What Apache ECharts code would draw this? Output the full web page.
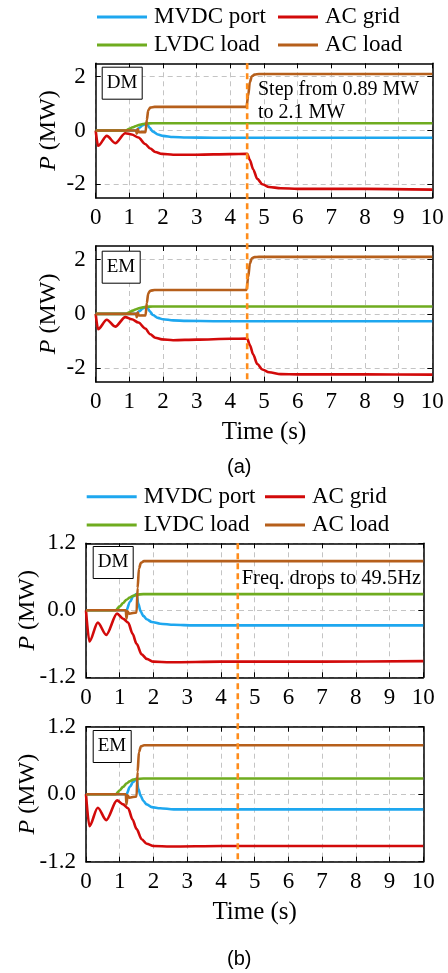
<!DOCTYPE html>
<html>
<head>
<meta charset="utf-8">
<script src="https://cdn.jsdelivr.net/npm/echarts@6/dist/echarts.min.js"></script>
<style>
  html, body { margin: 0; padding: 0; background: #fff; }
  #chart { width: 448px; height: 973px; }
</style>
</head>
<body>
<div id="chart"></div>
<script>
// ---- data (time in s, power in MW) ----
const xTicks = [0, 1, 2, 3, 4, 5, 6, 7, 8, 9, 10]
const yTicksA = [-2, 0, 2]
const yTicksB = [-1.2, 0, 1.2]
const eventTime = 4.5

// (a) AC load step 0.89 -> 2.1 MW at 4.5 s
const aMvdcT = [0, 1.2, 1.3, 1.4, 1.5, 1.55, 1.6, 1.7, 1.85, 2.0, 2.3, 2.7, 3.5, 10]
const aDmMvdc = [0, 0, 0.1, 0.2, 0.25, 0.2, 0.1, -0.04, -0.15, -0.2, -0.24, -0.26, -0.27, -0.27]
const aEmMvdc = [0, 0, 0.1, 0.2, 0.25, 0.2, 0.1, -0.04, -0.15, -0.2, -0.24, -0.26, -0.27, -0.27]

const aLvdcT = [0, 0.9, 1.0, 1.1, 1.2, 1.3, 1.4, 1.5, 1.7, 2, 10]
const aDmLvdc = [0, 0, 0.06, 0.12, 0.17, 0.21, 0.24, 0.26, 0.27, 0.27, 0.27]
const aEmLvdc = [0, 0, 0.06, 0.12, 0.17, 0.21, 0.24, 0.26, 0.27, 0.27, 0.27]

const aLoadT = [0, 1.2, 1.22, 1.25, 1.28, 1.48, 1.52, 1.56, 1.62, 1.75, 4.48, 4.53, 4.58, 4.64, 4.72, 4.85, 10]
const aDmLoad = [0, 0, -0.12, 0.05, -0.06, -0.06, 0.4, 0.75, 0.85, 0.88, 0.88, 1.3, 1.8, 2.02, 2.08, 2.1, 2.1]
const aEmLoad = [0, 0, -0.12, 0.05, -0.06, -0.06, 0.4, 0.75, 0.85, 0.88, 0.88, 1.35, 1.85, 2.05, 2.09, 2.1, 2.1]

const aGridT = [0, 0.07, 0.33, 0.58, 0.88, 1.07, 1.27, 1.47, 1.62, 1.77, 1.97, 2.3, 3, 4, 4.5, 4.58, 4.68, 4.8, 4.95, 5.15, 5.5, 6, 8, 10]
const aDmGrid = [0, -0.57, -0.2, -0.47, -0.1, -0.15, -0.26, -0.5, -0.67, -0.8, -0.87, -0.9, -0.9, -0.88, -0.87, -1.1, -1.45, -1.8, -2.0, -2.1, -2.15, -2.17, -2.17, -2.2]
const aEmGrid = [0, -0.57, -0.22, -0.47, -0.12, -0.2, -0.32, -0.54, -0.75, -0.88, -0.94, -0.97, -0.95, -0.92, -0.91, -1.15, -1.5, -1.85, -2.05, -2.15, -2.22, -2.23, -2.23, -2.24]

// (b) grid frequency drops to 49.5 Hz at 4.5 s
const bMvdcT = [0, 1.2, 1.3, 1.4, 1.5, 1.55, 1.62, 1.7, 1.8, 1.95, 2.2, 2.6, 3.2, 10]
const bDmMvdc = [0, 0, 0.15, 0.25, 0.29, 0.12, -0.02, -0.1, -0.16, -0.21, -0.24, -0.26, -0.27, -0.27]
const bEmMvdc = [0, 0, 0.13, 0.22, 0.28, 0.1, -0.03, -0.12, -0.18, -0.23, -0.25, -0.27, -0.27, -0.27]

const bLvdcT = [0, 0.88, 1.0, 1.1, 1.2, 1.3, 1.4, 1.5, 1.7, 2.2, 10]
const bDmLvdc = [0, 0, 0.07, 0.13, 0.19, 0.23, 0.26, 0.28, 0.29, 0.29, 0.29]
const bEmLvdc = [0, 0, 0.07, 0.13, 0.19, 0.23, 0.26, 0.27, 0.28, 0.28, 0.28]

const bLoadT = [0, 1.18, 1.2, 1.23, 1.28, 1.5, 1.53, 1.57, 1.63, 1.72, 10]
const bDmLoad = [0, 0, -0.15, -0.02, -0.06, -0.04, 0.4, 0.75, 0.85, 0.88, 0.88]
const bEmLoad = [0, 0, -0.18, -0.02, -0.06, -0.04, 0.4, 0.75, 0.85, 0.87, 0.87]

const bGridT = [0, 0.1, 0.35, 0.6, 0.92, 1.1, 1.25, 1.38, 1.5, 1.65, 1.8, 2.0, 2.5, 4, 7, 10]
const bDmGrid = [0, -0.56, -0.22, -0.44, -0.06, -0.15, -0.22, -0.42, -0.6, -0.79, -0.87, -0.92, -0.93, -0.92, -0.92, -0.91]
const bEmGrid = [0, -0.57, -0.24, -0.46, -0.11, -0.18, -0.25, -0.45, -0.62, -0.8, -0.88, -0.92, -0.93, -0.92, -0.92, -0.92]

const names = ['MVDC port', 'AC grid', 'LVDC load', 'AC load']
const colors = ['#1ea7ef', '#d20a0a', '#6fac1f', '#b65f1b']

const serif = '"Liberation Serif", "DejaVu Serif", serif'
const sans = '"Liberation Sans", Arial, sans-serif'

const pairs = (ts, vs) => ts.map((t, i) => [t, vs[i]])

// panels: grid placement + data per panel
const panels = [
  { left: 95.7, right: 15.7, top: 63.3, height: 134.4, yMin: -2.5, yMax: 2.5, yTicks: yTicksA, fmt: v => String(v), nameGap: 35, time: false,
    data: [pairs(aMvdcT, aDmMvdc), pairs(aGridT, aDmGrid), pairs(aLvdcT, aDmLvdc), pairs(aLoadT, aDmLoad)] },
  { left: 95.7, right: 15.7, top: 246, height: 135.7, yMin: -2.5, yMax: 2.5, yTicks: yTicksA, fmt: v => String(v), nameGap: 35, time: true,
    data: [pairs(aMvdcT, aEmMvdc), pairs(aGridT, aEmGrid), pairs(aLvdcT, aEmLvdc), pairs(aLoadT, aEmLoad)] },
  { left: 86, right: 24.7, top: 543.3, height: 134, yMin: -1.2, yMax: 1.2, yTicks: yTicksB, fmt: v => v.toFixed(1), nameGap: 46, time: false,
    data: [pairs(bMvdcT, bDmMvdc), pairs(bGridT, bDmGrid), pairs(bLvdcT, bDmLvdc), pairs(bLoadT, bDmLoad)] },
  { left: 86, right: 24.7, top: 726.7, height: 135, yMin: -1.2, yMax: 1.2, yTicks: yTicksB, fmt: v => v.toFixed(1), nameGap: 46, time: true,
    data: [pairs(bMvdcT, bEmMvdc), pairs(bGridT, bEmGrid), pairs(bLvdcT, bEmLvdc), pairs(bLoadT, bEmLoad)] },
]

const boxLine = { show: true, onZero: false, lineStyle: { color: '#000', width: 1.5 } }
const inTick = { show: true, inside: true, length: 5, lineStyle: { color: '#000', width: 1 } }
const gridDash = { show: true, lineStyle: { color: '#c4c4c4', width: 1, type: [5, 4] } }

const grid = [], xAxis = [], yAxis = [], series = []
panels.forEach((p, gi) => {
  grid.push({ left: p.left, right: p.right, top: p.top, height: p.height, outerBoundsMode: 'none' })
  xAxis.push({
    gridIndex: gi, type: 'value', min: 0, max: 10, interval: 1, position: 'bottom',
    axisLine: boxLine, axisTick: inTick, splitLine: gridDash,
    axisLabel: { margin: 9, color: '#000', fontFamily: serif, fontSize: 23, showMinLabel: true, showMaxLabel: true,
      customValues: xTicks },
    name: p.time ? 'Time (s)' : '', nameLocation: 'middle', nameGap: 38, nameMoveOverlap: false,
    nameTextStyle: { color: '#000', fontFamily: serif, fontSize: 25 }
  })
  xAxis.push({
    gridIndex: gi, type: 'value', min: 0, max: 10, interval: 1, position: 'top',
    axisLine: boxLine, axisTick: inTick, axisLabel: { show: false }, splitLine: { show: false }
  })
  yAxis.push({
    gridIndex: gi, type: 'value', min: p.yMin, max: p.yMax, position: 'left',
    axisLine: boxLine, axisTick: Object.assign({}, inTick, { customValues: p.yTicks }), splitLine: gridDash,
    axisLabel: { margin: 10, color: '#000', fontFamily: serif, fontSize: 23, customValues: p.yTicks, formatter: p.fmt },
    name: '{i|P} (MW)', nameLocation: 'middle', nameGap: p.nameGap, nameMoveOverlap: false,
    nameTextStyle: { color: '#000', fontFamily: serif, fontSize: 24,
      rich: { i: { fontStyle: 'italic', fontFamily: serif, fontSize: 24, color: '#000' } } }
  })
  yAxis.push({
    gridIndex: gi, type: 'value', min: p.yMin, max: p.yMax, position: 'right',
    axisLine: boxLine, axisTick: Object.assign({}, inTick, { customValues: p.yTicks }),
    axisLabel: { show: false }, splitLine: { show: false }
  })
  p.data.forEach((d, k) => {
    series.push({
      name: names[k], type: 'line', xAxisIndex: gi * 2, yAxisIndex: gi * 2,
      data: d, showSymbol: false, symbol: 'none', smooth: 0.3, smoothMonotone: 'x',
      lineStyle: { width: 2.6, color: colors[k] }, itemStyle: { color: colors[k] },
      z: k === 3 ? 4 : 3, animation: false
    })
  })
})

// legends: two rows above each figure, one legend per entry so columns line up
const legendSpots = [
  [97, 17, 50], [278, 17, 40], [97, 45, 50], [278, 45, 40],
  [86.7, 496.7, 50], [265, 496.7, 40], [86.7, 525, 50], [265, 525, 40]
]
const legend = legendSpots.map((s, i) => ({
  data: [names[i % 4]], left: s[0], top: s[1] - 12, itemWidth: s[2], itemHeight: 3, icon: 'rect',
  padding: 0, selectedMode: false,
  textStyle: { color: '#000', fontFamily: serif, fontSize: 23, lineHeight: 24, padding: [0, 0, 0, 2] }
}))

const modeBox = (text, left, top) => ({
  text, left, top, padding: [6, 5, 6, 5], borderWidth: 1, borderColor: '#000', backgroundColor: '#fff',
  textStyle: { color: '#000', fontFamily: serif, fontSize: 19, fontWeight: 'normal', lineHeight: 21 }
})

const chart = echarts.init(document.getElementById('chart'))
chart.setOption({
  backgroundColor: '#fff',
  animation: false,
  title: [modeBox('DM', 101.7, 66.7), modeBox('EM', 101.7, 250.7), modeBox('DM', 92.7, 546), modeBox('EM', 92.7, 730)],
  legend, grid, xAxis, yAxis, series
})

// dashed event marker spanning both panels of each figure
const marker = (gTop, gBot, yTop, yBot) => {
  const a = chart.convertToPixel({ gridIndex: gTop }, [eventTime, yTop])
  const b = chart.convertToPixel({ gridIndex: gBot }, [eventTime, yBot])
  return { type: 'line', shape: { x1: a[0], y1: a[1], x2: b[0], y2: b[1] }, z: 10,
    style: { stroke: '#ff8c1a', lineWidth: 2.6, lineDash: [6, 4] } }
}

chart.setOption({
  graphic: [
    marker(0, 1, 2.5, -2.5),
    marker(2, 3, 1.2, -1.2),
    { type: 'text', left: 258, top: 78.6, z: 11,
      style: { text: 'Step from 0.89 MW\nto 2.1 MW', fill: '#000', font: '20px ' + serif, lineHeight: 22.7 } },
    { type: 'text', left: 241.7, top: 568.5, z: 11,
      style: { text: 'Freq. drops to 49.5Hz', fill: '#000', font: '20.5px ' + serif } },
    { type: 'text', left: 227, top: 457, style: { text: '(a)', fill: '#000', font: '20px ' + sans } },
    { type: 'text', left: 227, top: 949, style: { text: '(b)', fill: '#000', font: '20px ' + sans } }
  ]
})
</script>
</body>
</html>
